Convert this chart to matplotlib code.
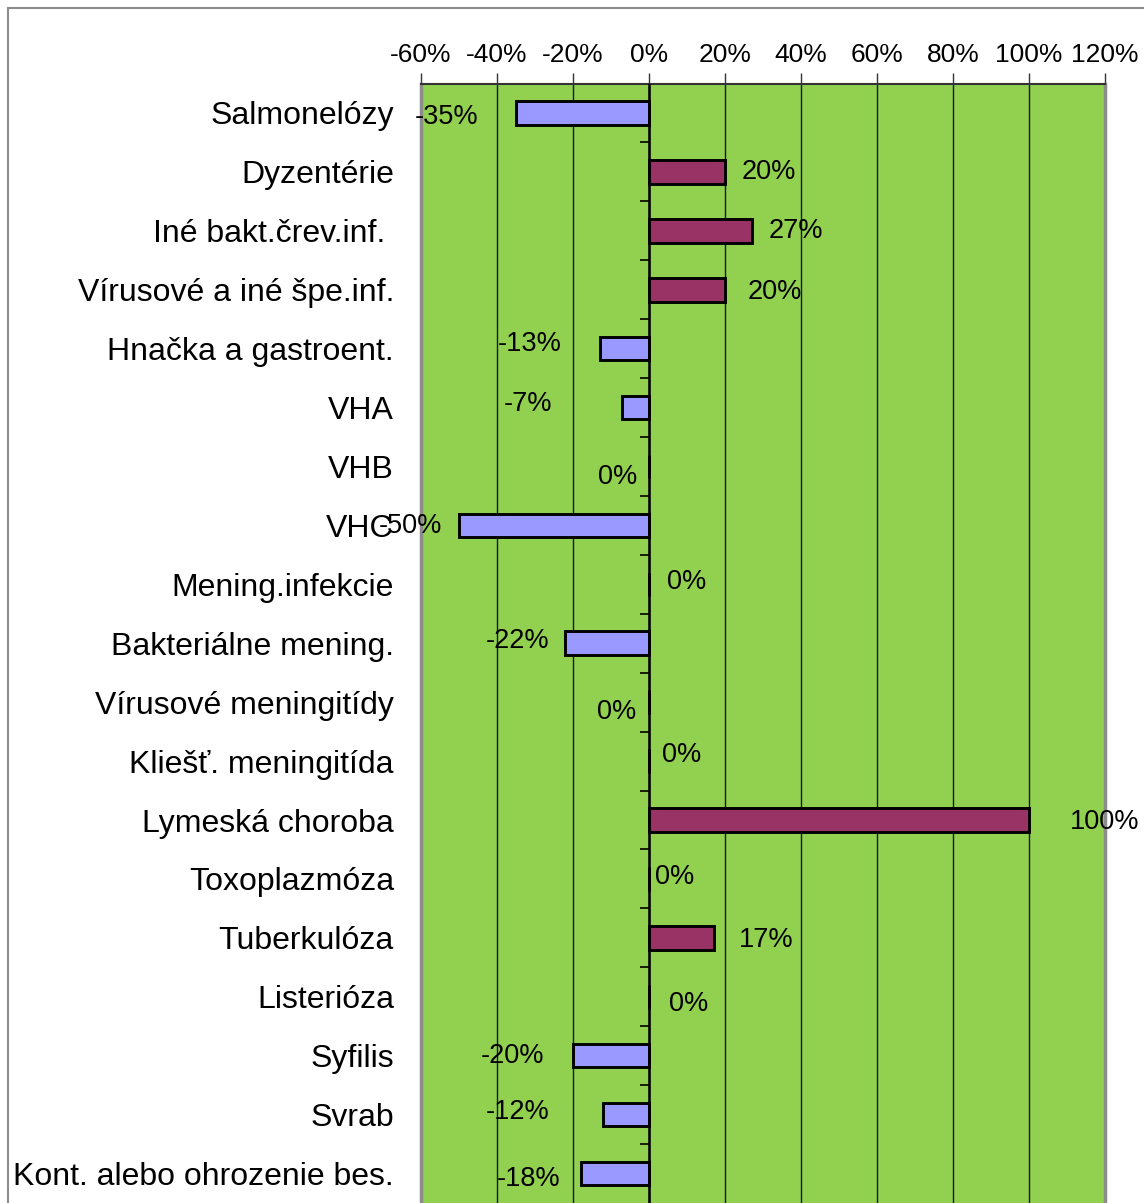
import matplotlib
matplotlib.use("Agg")
import matplotlib.pyplot as plt
from matplotlib.patches import Rectangle

categories = ["Salmonelózy", "Dyzentérie", "Iné bakt.črev.inf. ", "Vírusové a iné špe.inf.",
              "Hnačka a gastroent.", "VHA", "VHB", "VHC", "Mening.infekcie",
              "Bakteriálne mening.", "Vírusové meningitídy", "Kliešť. meningitída",
              "Lymeská choroba", "Toxoplazmóza", "Tuberkulóza", "Listerióza",
              "Syfilis", "Svrab", "Kont. alebo ohrozenie bes."]
values = [-35, 20, 27, 20, -13, -7, 0, -50, 0, -22, 0, 0, 100, 0, 17, 0, -20, -12, -18]
x_ticks = [-60, -40, -20, 0, 20, 40, 60, 80, 100, 120]

# label placement (layout only, percent / category units)
label_x = [-53.2, 31.6, 38.7, 33.2, -31.3, -31.8, -8.2, -62.9, 10.0, -34.7,
           -8.4, 8.7, 120.0, 6.8, 30.8, 10.5, -35.8, -34.5, -31.8]
label_dy = [0.03, -0.03, -0.03, 0.0, -0.12, -0.10, 0.15, -0.03, -0.07, -0.08,
            0.14, -0.14, 0.0, -0.07, 0.0, 0.08, -0.03, -0.08, 0.05]
label_shift = 0.035

plt.rcParams['font.family'] = ['Liberation Sans', 'DejaVu Sans']

W, H = 1144, 1203
fig = plt.figure(figsize=(W / 100, H / 100), dpi=100)
fig.patch.set_facecolor("white")
fig.patches.append(Rectangle((8 / W, -0.1), 1.2, 1 - 8 / H + 0.1, transform=fig.transFigure,
                             fill=False, edgecolor="#8c8c8c", linewidth=1.5, zorder=0))

ax = fig.add_axes([421 / W, 0, (1105 - 421) / W, 1 - 83.5 / H])
ax.set_facecolor("#92D050")

n = len(categories)
ys = list(range(n))
colors = ["#9999FF" if v < 0 else "#993366" for v in values]
ax.barh(ys, values, height=0.4, color=colors, edgecolor="black", linewidth=2.1, zorder=3)

ax.set_xlim(-60, 120)
ax.set_ylim(n - 0.5, -0.5)
ax.set_xticks(x_ticks)
ax.set_xticklabels([f"{t}%" for t in x_ticks], fontsize=19)
ax.xaxis.tick_top()
ax.tick_params(axis="x", direction="out", length=8, width=1, color="#333333", pad=4)
ax.grid(axis="x", color="#1a1a1a", linewidth=1, zorder=1)
ax.axvline(0, color="black", linewidth=1.8, zorder=4)
# minor category tick marks on the zero axis
ax.hlines([i + 0.5 for i in range(n - 1)], -2.4, 0, color="black", linewidth=1.2, zorder=4)

ax.set_yticks(ys)
ax.set_yticklabels(categories, fontsize=23)
ax.tick_params(axis="y", length=0, pad=19.5)

for s in ["left", "right"]:
    ax.spines[s].set_color("#8c8c8c")
    ax.spines[s].set_linewidth(2.5)
ax.spines["top"].set_color("#333333")
ax.spines["top"].set_linewidth(1.5)
ax.spines["bottom"].set_visible(False)

for i, v in enumerate(values):
    ax.text(label_x[i], i + label_dy[i] + label_shift, f"{v}%", ha="center", va="center",
            fontsize=19.5, color="black", zorder=5, clip_on=False)

fig.savefig("out.png", dpi=100)
